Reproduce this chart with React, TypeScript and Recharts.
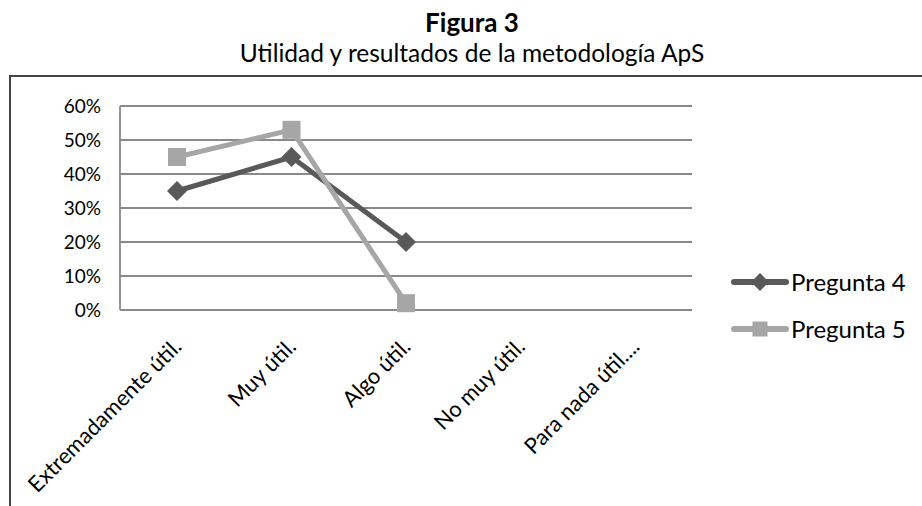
import React from "react";
import { LineChart, Line, XAxis, YAxis, CartesianGrid } from "recharts";

const categories = [
  "Extremadamente útil.",
  "Muy útil.",
  "Algo útil.",
  "No muy útil.",
  "Para nada útil....",
];
const pregunta4 = [35, 45, 20, null, null];
const pregunta5 = [45, 53, 2, null, null];
const yTicks = [0, 10, 20, 30, 40, 50, 60];

const FONT = "Lato, 'Open Sans', sans-serif";
const DARK = "#595959";
const LIGHT = "#a6a6a6";
const GRID = "#8a8a8a";

const data = categories.map((name, i) => ({
  name,
  p4: pregunta4[i],
  p5: pregunta5[i],
}));

const Diamond = ({ cx, cy, fill, r = 9 }: any) => {
  if (cx == null || cy == null) return null;
  return (
    <polygon
      points={`${cx},${cy - r} ${cx + r},${cy} ${cx},${cy + r} ${cx - r},${cy}`}
      fill={fill}
    />
  );
};

const Square = ({ cx, cy, fill, s = 9 }: any) => {
  if (cx == null || cy == null) return null;
  return <rect x={cx - s} y={cy - s} width={s * 2} height={s * 2} fill={fill} />;
};

const XTick = ({ x, y, payload }: any) => (
  <g transform={`translate(${x + 6},${y + 30})`}>
    <text
      textAnchor="end"
      transform="rotate(-45)"
      fontSize={22}
      fill="#000"
      fontFamily={FONT}
    >
      {payload.value}
    </text>
  </g>
);

// legend drawn as plain html beside the plot
const legendItems = [
  { label: "Pregunta 4", color: DARK, shape: "diamond", top: 282 },
  { label: "Pregunta 5", color: LIGHT, shape: "square", top: 329 },
];

export default function App() {
  return (
    <div
      style={{
        position: "absolute",
        left: 0,
        top: 0,
        width: 922,
        height: 506,
        overflow: "hidden",
        background: "#fff",
        fontFamily: FONT,
        color: "#000",
      }}
    >
      <div
        style={{
          position: "absolute",
          top: 11,
          left: 11,
          width: 922,
          textAlign: "center",
          fontWeight: 700,
          fontSize: 26,
          lineHeight: "22px",
        }}
      >
        Figura 3
      </div>
      <div
        style={{
          position: "absolute",
          top: 43,
          left: 11,
          width: 922,
          textAlign: "center",
          fontSize: 24.5,
          lineHeight: "20px",
        }}
      >
        Utilidad y resultados de la metodología ApS
      </div>
      <div
        style={{
          position: "absolute",
          left: 9,
          top: 75,
          width: 940,
          height: 520,
          border: "2px solid #444",
        }}
      />
      <div style={{ position: "absolute", left: 0, top: 0 }}>
        <LineChart
          width={922}
          height={506}
          data={data}
          margin={{ top: 106, right: 230, bottom: 0, left: 70 }}
        >
          <CartesianGrid vertical={false} stroke={GRID} strokeWidth={1.8} />
          <XAxis
            dataKey="name"
            interval={0}
            height={196}
            padding={{ left: 57, right: 57 }}
            tick={<XTick />}
            tickLine={false}
            axisLine={{ stroke: GRID, strokeWidth: 1.8 }}
          />
          <YAxis
            width={50}
            domain={[0, 60]}
            ticks={yTicks}
            tickFormatter={(v: number) => `${v}%`}
            tickLine={false}
            tickSize={0}
            tickMargin={19}
            axisLine={{ stroke: GRID, strokeWidth: 1.8 }}
            tick={{ fontSize: 19, fill: "#000", fontFamily: FONT }}
          />
          <Line
            dataKey="p4"
            name="Pregunta 4"
            stroke={DARK}
            strokeWidth={5}
            dot={<Diamond fill={DARK} r={10} />}
            activeDot={false}
            isAnimationActive={false}
          />
          <Line
            dataKey="p5"
            name="Pregunta 5"
            stroke={LIGHT}
            strokeWidth={5}
            dot={<Square fill={LIGHT} s={9} />}
            activeDot={false}
            isAnimationActive={false}
          />
        </LineChart>
      </div>
      {legendItems.map((it) => (
        <div
          key={it.label}
          style={{
            position: "absolute",
            left: 730,
            top: it.top - 15,
            height: 30,
            display: "flex",
            alignItems: "center",
          }}
        >
          <svg width={60} height={30}>
            <line
              x1={4}
              y1={15}
              x2={56}
              y2={15}
              stroke={it.color}
              strokeWidth={6}
              strokeLinecap="round"
            />
            {it.shape === "diamond" ? (
              <Diamond cx={30} cy={15} fill={it.color} r={9} />
            ) : (
              <Square cx={30} cy={15} fill={it.color} s={7.5} />
            )}
          </svg>
          <span style={{ fontSize: 24, lineHeight: "30px", marginLeft: 1 }}>
            {it.label}
          </span>
        </div>
      ))}
    </div>
  );
}
